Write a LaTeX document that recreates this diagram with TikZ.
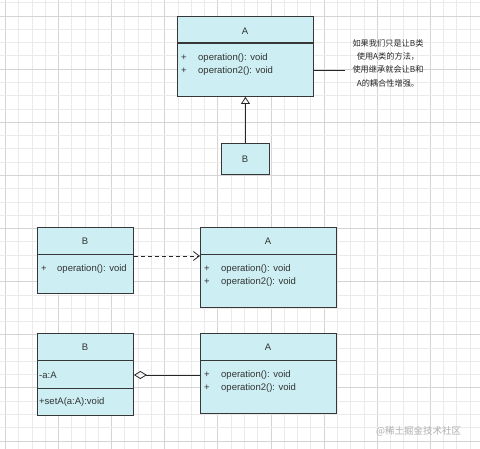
\documentclass[tikz,border=0pt]{standalone}
\usepackage{fontspec}
\setmainfont{Liberation Sans}
\newfontfamily\cjk{Noto Sans CJK SC}
\usetikzlibrary{arrows.meta}
\definecolor{clsfill}{RGB}{205,239,243}
\definecolor{clsline}{RGB}{55,55,55}
\definecolor{gridminor}{RGB}{234,234,234}
\definecolor{gridmajor}{RGB}{212,212,212}
\definecolor{wmark}{RGB}{175,175,175}
\tikzset{
  cls/.style={draw=clsline, fill=clsfill, line width=0.9pt, inner sep=0pt, anchor=north west},
  sep/.style={draw=clsline, line width=0.9pt},
  txt/.style={inner sep=0pt, font=\fontsize{9.5}{11}\selectfont, text=black!80},
  ltxt/.style={txt, anchor=west},
  conn/.style={draw=black!85, line width=0.8pt},
}
\begin{document}
\begin{tikzpicture}[x=1pt,y=-1pt]
\useasboundingbox (0,0) rectangle (480,449);
\fill[white] (0,0) rectangle (480,449);
% grid
\foreach \i in {0,...,35} {
  \pgfmathtruncatemacro\m{mod(\i,4)}
  \ifnum\m=0 \def\gc{gridmajor}\else\def\gc{gridminor}\fi
  \draw[draw=\gc, line width=0.7pt] ({5.3+\i*13.28},0) -- ({5.3+\i*13.28},449);
}
\foreach \i in {0,...,33} {
  \pgfmathtruncatemacro\m{mod(\i,4)}
  \ifnum\m=1 \def\gc{gridmajor}\else\def\gc{gridminor}\fi
  \draw[draw=\gc, line width=0.7pt] (0,{2.7+\i*13.28}) -- (480,{2.7+\i*13.28});
}

% ---------- top: inheritance ----------
\node[cls, minimum width=136pt, minimum height=80pt] (A1) at (177,16) {};
\draw[sep, line width=1.5pt] (177,43) -- (313,43);
\node[txt] (A1t) at (245,31) {A};
\node[ltxt] (A1p1) at (181,58) {+};
\node[ltxt] (A1o1) at (198,58) {operation(): void};
\node[ltxt] (A1p2) at (181,71) {+};
\node[ltxt] (A1o2) at (198,71) {operation2(): void};

\node[cls, minimum width=48pt, minimum height=31pt] (B1) at (221,143) {};
\node[txt] (B1t) at (245,159) {B};
\draw[conn, -{Triangle[open, width=9pt, length=7pt]}] (B1.north) -- (A1.south);

\coordinate (N) at (345,70);
\draw[conn] (A1.east |- N) -- (N);
\node[inner sep=0pt, align=center, font=\cjk\fontsize{8.2}{13.4}\selectfont, text=black!85, anchor=north] (note) at (388,39)
  {如果我们只是让B类\\使用A类的方法，\\使用继承就会让B和\\A的耦合性增强。};

% ---------- middle: dependency ----------
\node[cls, minimum width=96pt, minimum height=66pt] (B2) at (37,227) {};
\draw[sep] (37,254) -- (133,254);
\node[txt] (B2t) at (85,241) {B};
\node[ltxt] (B2p1) at (41,269) {+};
\node[ltxt] (B2o1) at (57,269) {operation(): void};

\node[cls, minimum width=136pt, minimum height=80pt] (A2) at (200,227) {};
\draw[sep] (200,254) -- (336,254);
\node[txt] (A2t) at (268,241) {A};
\node[ltxt] (A2p1) at (204,269) {+};
\node[ltxt] (A2o1) at (221,269) {operation(): void};
\node[ltxt] (A2p2) at (204,282) {+};
\node[ltxt] (A2o2) at (221,282) {operation2(): void};

\coordinate (D) at (0,256);
\draw[conn, dash pattern=on 4pt off 3pt, -{Straight Barb[length=6pt, width=9pt]}] (B2.east |- D) -- (A2.west |- D);

% ---------- bottom: aggregation ----------
\node[cls, minimum width=96pt, minimum height=82pt] (B3) at (37,333) {};
\draw[sep] (37,360) -- (133,360);
\draw[sep] (37,388) -- (133,388);
\node[txt] (B3t) at (85,347) {B};
\node[ltxt] (B3a) at (39,375) {-a:A};
\node[ltxt] (B3m) at (39,402) {+setA(a:A):void};

\node[cls, minimum width=136pt, minimum height=80pt] (A3) at (200,333) {};
\draw[sep] (200,360) -- (336,360);
\node[txt] (A3t) at (268,347) {A};
\node[ltxt] (A3p1) at (204,375) {+};
\node[ltxt] (A3o1) at (221,375) {operation(): void};
\node[ltxt] (A3p2) at (204,388) {+};
\node[ltxt] (A3o2) at (221,388) {operation2(): void};

\coordinate (G) at (0,375);
\draw[conn, {Diamond[open, length=13pt, width=8pt]}-] (B3.east |- G) -- (A3.west |- G);

% watermark
\node[inner sep=0pt, anchor=west, font=\cjk\fontsize{9.5}{11}\selectfont, text=wmark] (wm) at (376,431) {@稀土掘金技术社区};
\end{tikzpicture}
\end{document}
